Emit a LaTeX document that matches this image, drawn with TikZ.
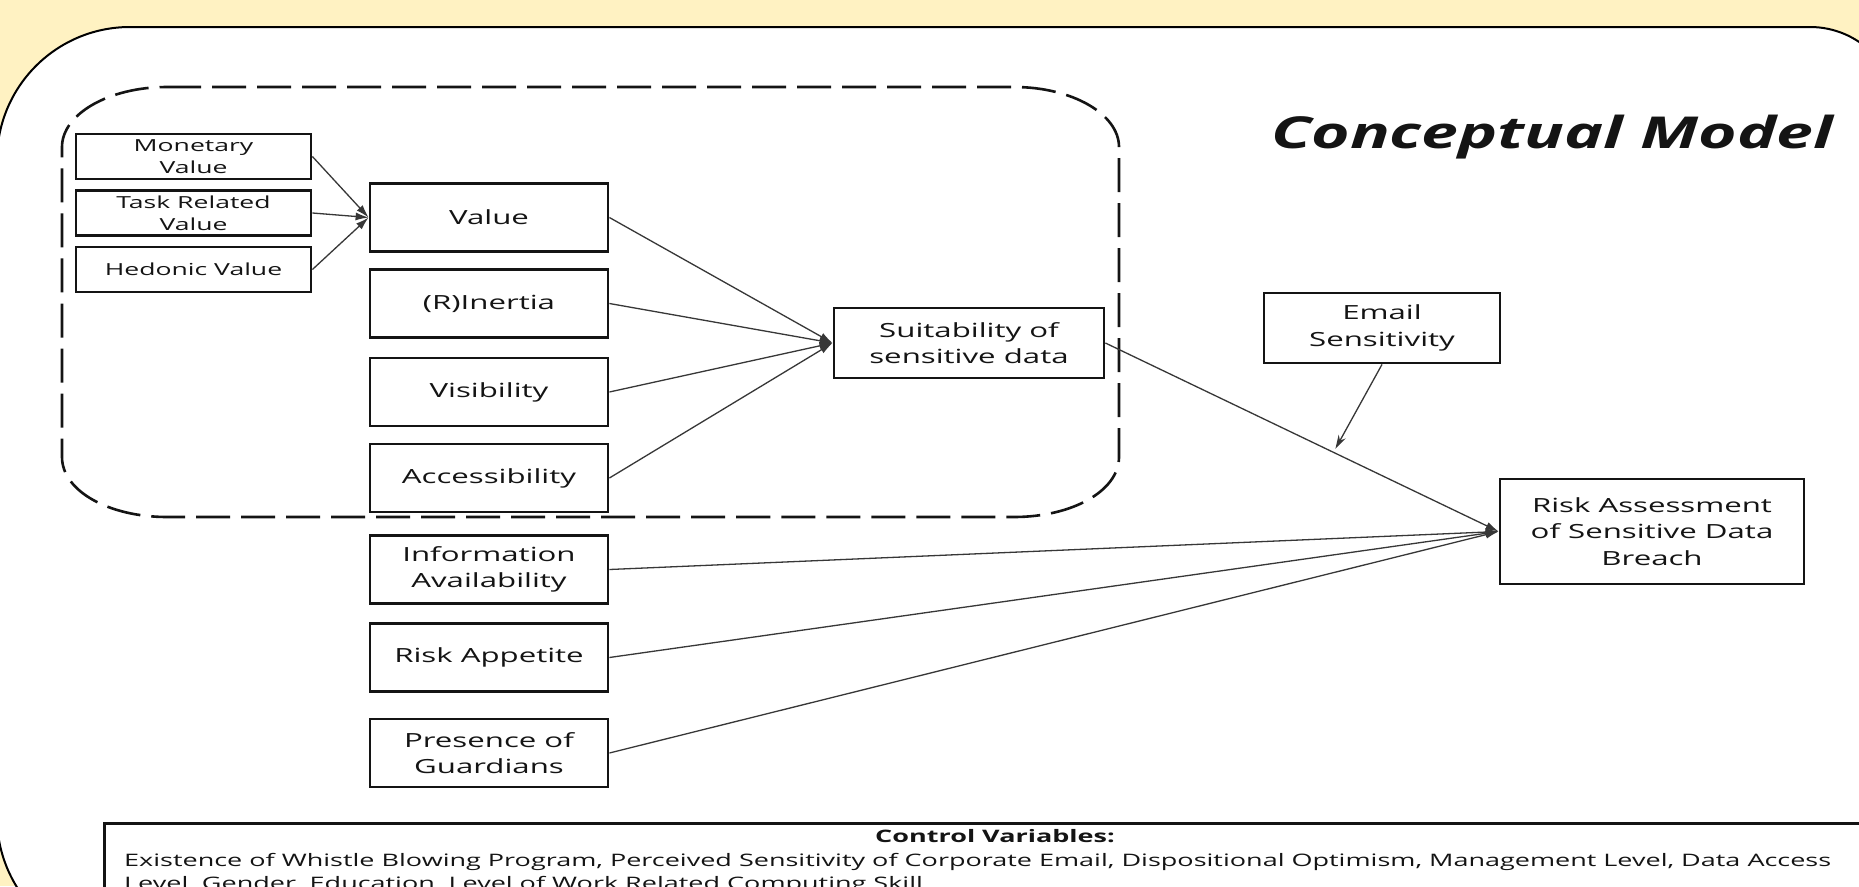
\documentclass[tikz,border=0pt]{standalone}
\usepackage{fontspec}
\setmainfont{Open Sans}[FakeStretch=1.6]
\newfontfamily\titlefont{Open Sans}[FakeStretch=1.5]
\newfontfamily\cvfont{Open Sans}[FakeStretch=1.57]
\usetikzlibrary{arrows.meta}
\definecolor{bgyellow}{RGB}{255,242,194}
\definecolor{ink}{RGB}{20,20,20}
\begin{document}
\begin{tikzpicture}[x=1pt,y=-1pt,
  box/.style={draw=ink, line width=2.8pt, inner sep=0pt, align=center, text=ink},
  smallbox/.style={box, minimum width=235pt, minimum height=45pt, font=\fontsize{16.6}{22}\selectfont},
  bigbox/.style={box, minimum width=238pt, minimum height=68pt, font=\fontsize{19.5}{26.7}\selectfont},
  link/.style={draw=ink!85, line width=1.3pt, -{Latex[length=13pt,width=8pt]}},
  cvtext/.style={text=ink, inner sep=0pt, font=\cvfont\fontsize{17.2}{23}\selectfont}
]
\useasboundingbox (0,0) rectangle (1859,886);
\fill[bgyellow] (0,0) rectangle (1859,886);
\clip (0,0) rectangle (1859,886);
% white panel
\path[draw=black, line width=2pt, fill=white]
  (-3,160) .. controls (-3,86.5) and (56.5,27) .. (130,27) -- (1810,27)
  .. controls (1858.6,27) and (1898,66.4) .. (1898,115) -- (1898,950) -- (130,950)
  .. controls (56.5,950) and (-3,890.5) .. (-3,817) -- cycle;
% dashed grouping
\draw[ink, line width=2.6pt, dash pattern=on 34pt off 11pt]
  (167,87) -- (1014,87) .. controls (1072,87) and (1119,114) .. (1119,147)
  -- (1119,457) .. controls (1119,491) and (1072,517) .. (1014,517)
  -- (167,517) .. controls (109,517) and (62,491) .. (62,457)
  -- (62,147) .. controls (62,114) and (109,87) .. (167,87) -- cycle;
% title
\node[anchor=base, text=ink, inner sep=0pt, font=\titlefont\fontsize{44}{52}\bfseries\itshape\selectfont] (title) at (1552,148) {Conceptual Model};
% boxes
\node[smallbox] (mon) at (193.5,156.5) {Monetary\\Value};
\node[smallbox] (task) at (193.5,213) {Task Related\\Value};
\node[smallbox] (hed) at (193.5,269.5) {Hedonic Value};
\node[bigbox] (val) at (489,217.5) {Value};
\node[bigbox] (iner) at (489,303.5) {(R)Inertia};
\node[bigbox] (vis) at (489,392) {Visibility};
\node[bigbox] (acc) at (489,478) {Accessibility};
\node[bigbox] (info) at (489,569.5) {Information\\Availability};
\node[bigbox] (app) at (489,657.5) {Risk Appetite};
\node[bigbox] (pres) at (489,753) {Presence of\\Guardians};
\node[bigbox, minimum width=270pt, minimum height=70pt] (suit) at (969,343) {Suitability of\\sensitive data};
\node[bigbox, minimum width=236pt, minimum height=70pt] (email) at (1382,328) {Email\\Sensitivity};
\node[bigbox, minimum width=304pt, minimum height=105pt] (risk) at (1652,531.5) {Risk Assessment\\of Sensitive Data\\Breach};
% connectors
\foreach \s in {mon,task,hed} \draw[link] (\s.east) -- (val.west);
\foreach \s in {val,iner,vis,acc} \draw[link] (\s.east) -- (suit.west);
\draw[link] (suit.east) -- coordinate[pos=0.58] (mod) (risk.west);
\foreach \s in {info,app,pres} \draw[link] (\s.east) -- (risk.west);
\draw[draw=ink!85, line width=1.3pt, -{Stealth[length=14pt,width=8pt]}, shorten >=4pt] (email.south) -- (mod);
% control variables
\node[draw=ink, line width=3pt, minimum width=1785pt, minimum height=140pt, anchor=north west, inner sep=0pt] (ctrl) at (103,822) {};
\node[cvtext, anchor=base, font=\cvfont\fontsize{17.2}{23}\bfseries\selectfont] (cvh) at (995,842) {Control Variables:};
\node[cvtext, anchor=base west] (cv1) at (124,866) {Existence of Whistle Blowing Program, Perceived Sensitivity of Corporate Email, Dispositional Optimism, Management Level, Data Access};
\node[cvtext, anchor=base west] (cv2) at (124,889) {Level, Gender, Education, Level of Work Related Computing Skill};
\end{tikzpicture}
\end{document}
